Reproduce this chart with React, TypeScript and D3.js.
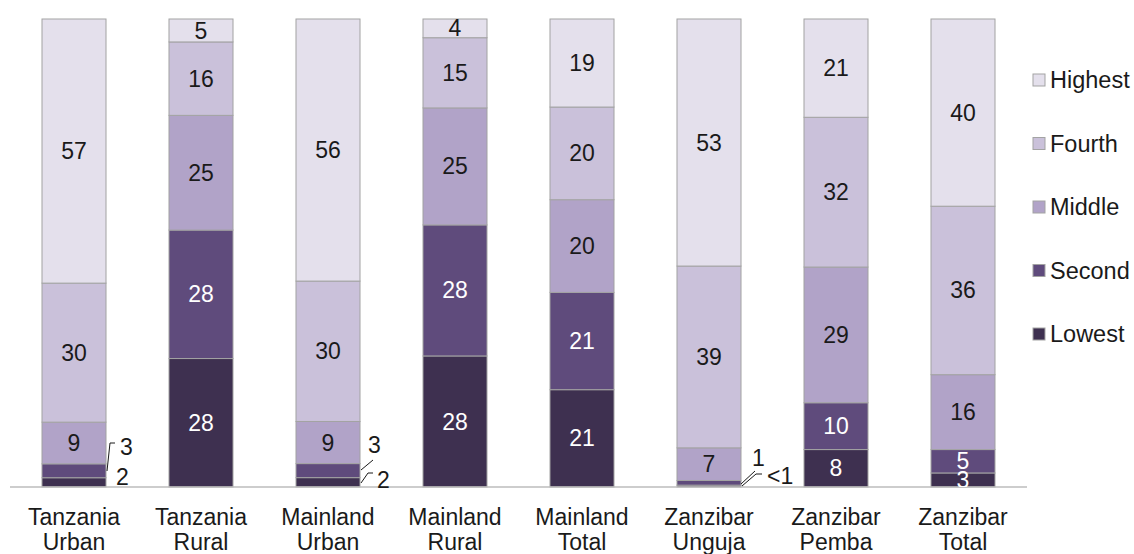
import React from 'react';
import * as d3 from 'd3';

// categories (two-line labels)
const categories = [
  'Tanzania Urban',
  'Tanzania Rural',
  'Mainland Urban',
  'Mainland Rural',
  'Mainland Total',
  'Zanzibar Unguja',
  'Zanzibar Pemba',
  'Zanzibar Total',
];

// wealth quintile shares (%), bottom to top
const lowest = [2, 28, 2, 28, 21, 0.4, 8, 3];
const second = [3, 28, 3, 28, 21, 1, 10, 5];
const middle = [9, 25, 9, 25, 20, 7, 29, 16];
const fourth = [30, 16, 30, 15, 20, 39, 32, 36];
const highest = [57, 5, 56, 4, 19, 53, 21, 40];

const seriesNames = ['Lowest', 'Second', 'Middle', 'Fourth', 'Highest'];
const seriesValues = [lowest, second, middle, fourth, highest];
const colors = ['#3e3050', '#5f4b7c', '#b1a3c8', '#cac1da', '#e4e0ec'];
const textColors = ['#ffffff', '#ffffff', '#1a1a1a', '#1a1a1a', '#1a1a1a'];

const fmt = (v: number) => (v < 1 ? '<1' : String(v));

// labels placed outside the bar with a leader line
// key: `${categoryIndex}-${seriesIndex}`, offsets from bar right edge / axis baseline
const outside: Record<string, { dx: number; dy: number; line: [number, number][] }> = {
  '0-1': { dx: 14, dy: -40, line: [[1, -16], [4, -44], [9, -44]] },
  '0-0': { dx: 10, dy: -10, line: [] },
  '2-1': { dx: 8, dy: -42, line: [[1, -17], [13, -27]] },
  '2-0': { dx: 17, dy: -7, line: [[1, -4], [8, -14], [13, -14]] },
  '5-1': { dx: 11, dy: -29, line: [[0, -3], [14, -16]] },
  '5-0': { dx: 26, dy: -11, line: [[1, -1], [15, -13], [21, -13]] },
};

const W = 1134;
const H = 554;
const FONT = 'Liberation Sans, Arial, sans-serif';

export default function App() {
  const table = categories.map((c, i) => {
    const row: Record<string, any> = { category: c };
    seriesNames.forEach((s, j) => (row[s] = seriesValues[j][i]));
    return row;
  });

  const stacked = d3
    .stack<any>()
    .keys(seriesNames)
    .offset(d3.stackOffsetExpand)(table);

  const x = d3
    .scaleBand<string>()
    .domain(categories)
    .range([10.5, 1026.5])
    .paddingInner(0.496)
    .paddingOuter(0.248);

  const y = d3.scaleLinear().domain([0, 1]).range([487, 19]);
  const base = y(0);

  return (
    <svg
      width={W}
      height={H}
      style={{ position: 'absolute', left: 0, top: 0, background: '#fff' }}
      fontFamily={FONT}
    >
      <defs>
        <clipPath id="plot">
          <rect x={0} y={0} width={W} height={base} />
        </clipPath>
      </defs>

      {/* bars */}
      {stacked.map((layer, j) => (
        <g key={layer.key}>
          {layer.map((d, i) => (
            <rect
              key={i}
              x={x(categories[i])}
              y={y(d[1])}
              width={x.bandwidth()}
              height={Math.max(0, y(d[0]) - y(d[1]))}
              fill={colors[j]}
              stroke="#a3a3a3"
              strokeWidth={1}
            />
          ))}
        </g>
      ))}

      {/* axis line */}
      <line x1={10} x2={1027} y1={base} y2={base} stroke="#bdbdbd" strokeWidth={1.5} />

      {/* value labels */}
      {stacked.map((layer, j) =>
        layer.map((d, i) => {
          const key = `${i}-${j}`;
          const raw = seriesValues[j][i];
          const right = (x(categories[i]) ?? 0) + x.bandwidth();
          const o = outside[key];
          if (o) {
            return (
              <g key={key}>
                {o.line.length > 0 && (
                  <polyline
                    points={o.line.map(([px, py]) => `${right + px},${base + py}`).join(' ')}
                    fill="none"
                    stroke="#1a1a1a"
                    strokeWidth={1}
                  />
                )}
                <text
                  x={right + o.dx}
                  y={base + o.dy}
                  dy="0.35em"
                  fontSize={23}
                  fill="#1a1a1a"
                >
                  {fmt(raw)}
                </text>
              </g>
            );
          }
          return (
            <text
              key={key}
              x={(x(categories[i]) ?? 0) + x.bandwidth() / 2}
              y={(y(d[0]) + y(d[1])) / 2}
              dy="0.35em"
              textAnchor="middle"
              fontSize={23}
              fill={textColors[j]}
              clipPath="url(#plot)"
            >
              {fmt(raw)}
            </text>
          );
        })
      )}

      {/* category labels */}
      {categories.map((c) => {
        const [l1, l2] = c.split(' ');
        const cx = (x(c) ?? 0) + x.bandwidth() / 2;
        return (
          <text key={c} x={cx} textAnchor="middle" fontSize={23} fill="#1a1a1a">
            <tspan x={cx} y={525}>
              {l1}
            </tspan>
            <tspan x={cx} y={550}>
              {l2}
            </tspan>
          </text>
        );
      })}

      {/* legend, top entry = Highest */}
      {[...seriesNames].reverse().map((s, k) => {
        const j = seriesNames.length - 1 - k;
        const cy = 80 + k * 63.5;
        return (
          <g key={s}>
            <rect x={1033} y={cy - 6} width={12} height={12} fill={colors[j]} stroke="#a3a3a3" strokeWidth={1} />
            <text x={1050} y={cy} dy="0.35em" fontSize={23.5} fill="#1a1a1a">
              {s}
            </text>
          </g>
        );
      })}
    </svg>
  );
}
